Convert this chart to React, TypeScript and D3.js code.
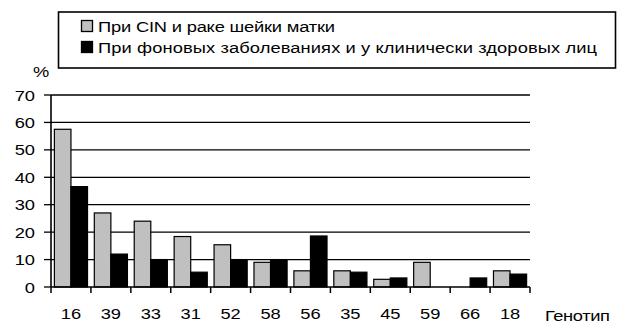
import React from "react";
import * as d3 from "d3";

const genotypes = ["16", "39", "33", "31", "52", "58", "56", "35", "45", "59", "66", "18"];
const cinCancer = [57.5, 27, 24, 18.4, 15.4, 9, 5.9, 5.9, 2.8, 9, 0, 5.9];
const background = [36.6, 12, 10, 5.4, 10, 10, 18.6, 5.4, 3.3, 0, 3.3, 4.7];
const yTicks = [0, 10, 20, 30, 40, 50, 60, 70];
const legendLabels = [
  "При CIN и раке шейки матки",
  "При фоновых заболеваниях и у клинически здоровых лиц",
];

const W = 619;
const H = 325;
const left = 51;
const right = 530;
const top = 95;
const bottom = 287;
const font = "Liberation Sans, Arial, sans-serif";
const FS = 15.5;
const SX = 1.18; // glyphs are drawn slightly widened

type TProps = {
  x: number;
  y: number;
  anchor?: "start" | "middle" | "end";
  len?: number;
  children: React.ReactNode;
};

function WText({ x, y, anchor = "start", len, children }: TProps) {
  return (
    <g transform={`translate(${x},${y}) scale(${SX},1)`}>
      <text x={0} y={0} textAnchor={anchor} fontSize={FS}
        textLength={len !== undefined ? len / SX : undefined}
        lengthAdjust={len !== undefined ? "spacing" : undefined}>
        {children}
      </text>
    </g>
  );
}

export default function App() {
  const x = d3.scaleBand<string>().domain(genotypes).range([left, right]).padding(0);
  const y = d3.scaleLinear().domain([0, 70]).range([bottom, top]);
  const bw = x.bandwidth();
  const pad = bw * 0.085;
  const barW = (bw - 2 * pad) / 2;

  return (
    <svg width={W} height={H} style={{ position: "absolute", left: 0, top: 0, background: "#fff" }}
      fontFamily={font}>
      {/* horizontal gridlines */}
      {yTicks.filter((t) => t > 0).map((t) => (
        <line key={t} x1={left} x2={right} y1={y(t)} y2={y(t)} stroke="#000" strokeWidth={1.3} />
      ))}
      {/* y-axis ticks and labels */}
      {yTicks.map((t) => (
        <g key={t}>
          <line x1={left - 7} x2={left} y1={y(t)} y2={y(t)} stroke="#000" strokeWidth={1.3} />
          <WText x={35} y={y(t) + 5.5} anchor="end">{t}</WText>
        </g>
      ))}
      {/* bars */}
      {genotypes.map((g, i) => {
        const x0 = (x(g) as number) + pad;
        return (
          <g key={g}>
            {cinCancer[i] > 0 && (
              <rect x={x0} y={y(cinCancer[i])} width={barW} height={y(0) - y(cinCancer[i])}
                fill="#c0c0c0" stroke="#000" strokeWidth={1.2} />
            )}
            {background[i] > 0 && (
              <rect x={x0 + barW} y={y(background[i])} width={barW} height={y(0) - y(background[i])}
                fill="#000" stroke="#000" strokeWidth={1.2} />
            )}
          </g>
        );
      })}
      {/* axes */}
      <line x1={left} x2={left} y1={top} y2={bottom} stroke="#000" strokeWidth={1.6} />
      <line x1={left} x2={right} y1={bottom} y2={bottom} stroke="#000" strokeWidth={1.6} />
      {genotypes.map((g) => (
        <line key={"t" + g} x1={x(g)} x2={x(g)} y1={bottom} y2={bottom + 6} stroke="#000" strokeWidth={1.5} />
      ))}
      <line x1={right} x2={right} y1={bottom} y2={bottom + 6} stroke="#000" strokeWidth={1.5} />
      {genotypes.map((g) => (
        <WText key={"l" + g} x={(x(g) as number) + bw / 2} y={318.5} anchor="middle">{g}</WText>
      ))}
      <WText x={545} y={321} len={65}>Генотип</WText>
      <WText x={33} y={77}>%</WText>
      {/* legend */}
      <rect x={58.5} y={12} width={557} height={56} fill="#fff" stroke="#000" strokeWidth={1.6} />
      <rect x={81.5} y={20.5} width={11} height={11} fill="#c0c0c0" stroke="#000" strokeWidth={1.3} />
      <WText x={98} y={31.5} len={237}>{legendLabels[0]}</WText>
      <rect x={81.5} y={41.5} width={11} height={11} fill="#000" stroke="#000" strokeWidth={1.3} />
      <WText x={98} y={52.5} len={499}>{legendLabels[1]}</WText>
    </svg>
  );
}
